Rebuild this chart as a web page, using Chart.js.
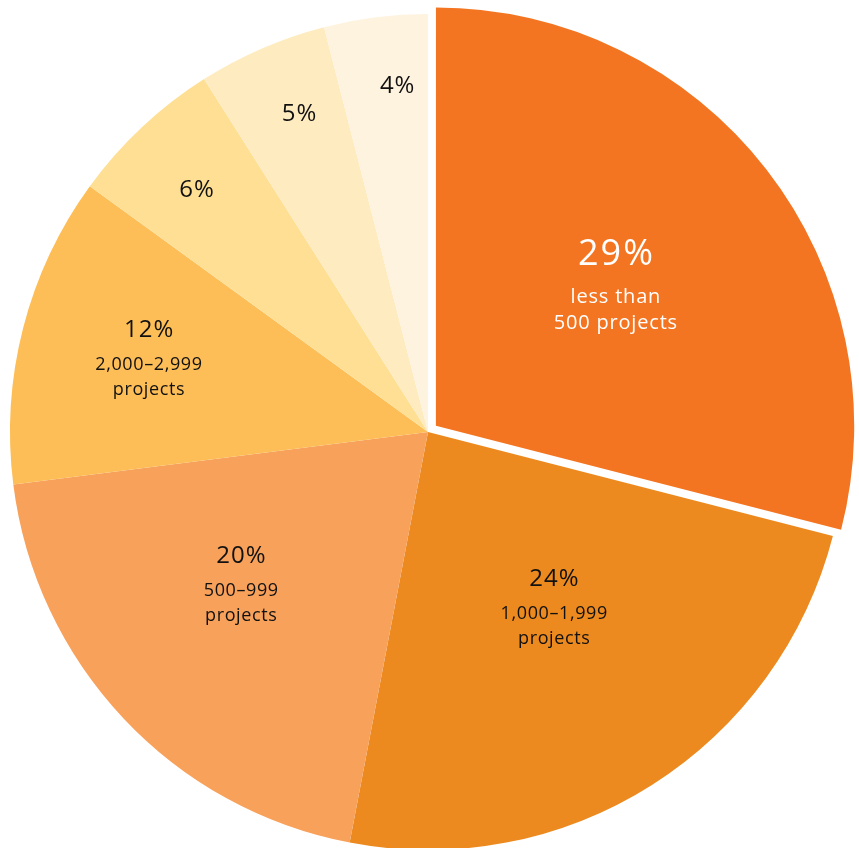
<!DOCTYPE html>
<html>
<head>
<meta charset="utf-8">
<script src="https://cdn.jsdelivr.net/npm/chart.js@4.4.1/dist/chart.umd.min.js"></script>
<style>
  html, body { margin: 0; padding: 0; background: #fff; }
  .wrap { width: 859px; height: 848px; position: relative; }
</style>
</head>
<body>
<div class="wrap"><canvas id="chart"></canvas></div>
<script>
// share of firms by number of projects
const labels = ['less than 500 projects', '1,000–1,999 projects', '500–999 projects',
                '2,000–2,999 projects', '6%', '5%', '4%'];
const shares = [29, 24, 20, 12, 6, 5, 4];
const subLines = [['less than', '500 projects'], ['1,000–1,999', 'projects'], ['500–999', 'projects'],
                  ['2,000–2,999', 'projects'], [], [], []];

const colors = ['#F47521', '#EC8A1F', '#F8A15B', '#FDBE57', '#FEDF94', '#FFEBC0', '#FEF3DF'];
const textColors = ['#ffffff', '#111111', '#111111', '#111111', '#111111', '#111111', '#111111'];

// where each label sits inside its slice (fraction of radius, angle nudge in degrees)
const labelRadius = [0.54, 0.52, 0.58, 0.69, 0.80, 0.82, 0.83];
const labelNudge = [0.5, -3, 3.7, 0, -0.6, 1.3, 2.1];
const FONT = '"Open Sans", sans-serif';

function text(ctx, str, x, y, size, spacing) {
  ctx.font = size + 'px ' + FONT;
  ctx.letterSpacing = spacing + 'px';
  // letterSpacing pads after every glyph, so pull back half a step to keep it centred
  ctx.fillText(str, x + spacing / 2, y);
}

const sliceLabels = {
  id: 'sliceLabels',
  afterDatasetsDraw(chart) {
    const ctx = chart.ctx;
    const meta = chart.getDatasetMeta(0);
    ctx.save();
    ctx.textAlign = 'center';
    ctx.textBaseline = 'middle';
    meta.data.forEach((arc, i) => {
      const p = arc.getProps(['x', 'y', 'startAngle', 'endAngle', 'outerRadius'], true);
      const mid = (p.startAngle + p.endAngle) / 2;
      const shift = (arc.options.offset || 0) / 4;
      const cx = p.x + Math.cos(mid) * shift;
      const cy = p.y + Math.sin(mid) * shift;
      const a = mid + labelNudge[i] * Math.PI / 180;
      const r = p.outerRadius * labelRadius[i];
      const x = cx + Math.cos(a) * r;
      const y = cy + Math.sin(a) * r;
      ctx.fillStyle = textColors[i];
      const lines = subLines[i];
      if (i === 0) {
        text(ctx, shares[i] + '%', x, y - 34, 36, 2);
        text(ctx, lines[0], x, y + 8, 20, 0.8);
        text(ctx, lines[1], x, y + 34, 20, 0.8);
      } else if (lines.length) {
        text(ctx, shares[i] + '%', x, y - 30, 24, 1);
        text(ctx, lines[0], x, y + 5, 18, 0.6);
        text(ctx, lines[1], x, y + 30, 18, 0.6);
      } else {
        text(ctx, shares[i] + '%', x, y, 24, 1);
      }
    });
    ctx.restore();
  }
};

new Chart(document.getElementById('chart'), {
  type: 'pie',
  data: {
    labels,
    datasets: [{
      data: shares,
      backgroundColor: colors,
      borderWidth: 0,
      offset: [40, 0, 0, 0, 0, 0, 0],
      hoverOffset: 0,
      radius: 418,
      clip: false
    }]
  },
  options: {
    responsive: true,
    maintainAspectRatio: false,
    animation: false,
    events: [],
    layout: { padding: { top: 16, bottom: 0, left: 0, right: 3 } },
    plugins: {
      legend: { display: false },
      tooltip: { enabled: false }
    }
  },
  plugins: [sliceLabels]
});
</script>
</body>
</html>
